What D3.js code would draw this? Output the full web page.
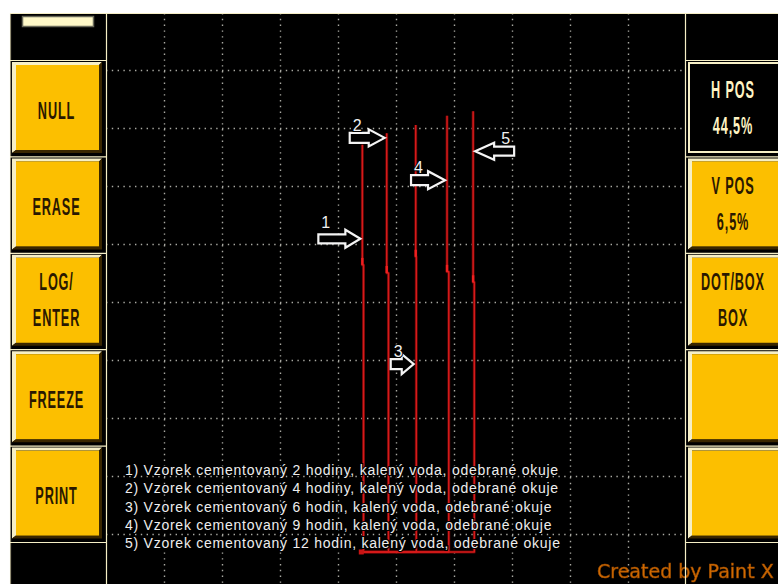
<!DOCTYPE html>
<html>
<head>
<meta charset="utf-8">
<script src="https://cdn.jsdelivr.net/npm/d3@7"></script>
<style>
  html, body { margin: 0; padding: 0; background: #fff; }
  svg { display: block; }
</style>
</head>
<body>
<script>
// Eddy-current flaw detector screen: five traces with arrows and a legend.

// ---- data -------------------------------------------------------------
const gridDivisions = d3.range(1, 10);               // grid lines at every division
const nullPoint = [4.41, 0.69];                      // balance point (div)
const traceLabels = ["1", "2", "3", "4", "5"];
const traceBottomX = [4.44, 4.87, 5.35, 5.91, 6.35]; // x where each trace leaves the baseline
const traceTopX = [4.42, 4.84, 5.34, 5.88, 6.33];    // x of the upper part of each trace
const traceKinkY = [5.64, 5.50, 5.78, 5.52, 5.34];   // small step in each trace
const traceTopY = [7.71, 7.91, 8.05, 8.21, 8.29];    // peak amplitude of each trace
const arrowY = [6.09, 7.83, 3.93, 7.10, 7.60];       // where each numbered arrow points
const arrowDir = ["right", "right", "right", "right", "left"];
const legendLines = [
  "1) Vzorek cementovaný 2 hodiny, kalený voda, odebrané okuje",
  "2) Vzorek cementovaný 4 hodiny, kalený voda, odebrané okuje",
  "3) Vzorek cementovaný 6 hodin, kalený voda, odebrané okuje",
  "4) Vzorek cementovaný 9 hodin, kalený voda, odebrané okuje",
  "5) Vzorek cementovaný 12 hodin, kalený voda, odebrané okuje"
];
const leftButtons = [["NULL"], ["ERASE"], ["LOG/", "ENTER"], ["FREEZE"], ["PRINT"]];
const hPos = 44.5, vPos = 6.5;
const rightButtons = [["H POS", hPos], ["V POS", vPos], ["DOT/BOX", "BOX"], [], []];
const footer = "Created by Paint X";

// ---- layout & style ---------------------------------------------------
const W = 778, H = 584;
const plot = { left: 106, right: 686, top: 13, bottom: 584 };
const pale = "#f6efc6", yellow = "#fcbf00", shade = "#3a2700", ink = "#2a1800";
const arrowShape = {           // length, head length, head half-height, shaft half-height
  "1": [42, 15, 9, 4.5], "2": [35, 16, 8.5, 5], "3": [23, 12, 10, 5],
  "4": [34, 17, 9, 5], "5": [39, 19, 8.5, 4.5]
};

const x = d3.scaleLinear().domain([0, 10]).range([plot.left, plot.right]);
const y = d3.scaleLinear().domain([0, 10]).range([592, 12]);

const svg = d3.select("body").append("svg")
  .attr("width", W).attr("height", H)
  .attr("font-family", "'Liberation Sans', Arial, sans-serif");

const defs = svg.append("defs");
defs.append("clipPath").attr("id", "plotClip")
  .append("rect").attr("x", plot.left).attr("y", plot.top)
  .attr("width", plot.right - plot.left).attr("height", plot.bottom - plot.top);
defs.append("filter").attr("id", "soft").attr("x", "-5%").attr("y", "-20%")
  .attr("width", "110%").attr("height", "140%")
  .append("feGaussianBlur").attr("stdDeviation", 0.55);

// screen background
svg.append("rect").attr("width", W).attr("height", H).attr("fill", "#fff");
svg.append("rect").attr("x", 10).attr("y", 13).attr("width", W - 10).attr("height", H - 13)
  .attr("fill", "#000");

// ---- grid -------------------------------------------------------------
const gridG = svg.append("g").attr("clip-path", "url(#plotClip)");
gridG.append("g")
  .attr("transform", `translate(${plot.left},0)`)
  .call(d3.axisLeft(y).tickValues(gridDivisions).tickSize(-(plot.right - plot.left)).tickFormat(""))
  .call(g => g.select(".domain").remove())
  .selectAll("line")
  .attr("stroke", "#a9a9a2").attr("stroke-width", 1.4)
  .attr("stroke-dasharray", "1.4 4.4");
gridG.append("g")
  .attr("transform", `translate(0,${plot.top})`)
  .call(d3.axisTop(x).tickValues(gridDivisions).tickSize(-(plot.bottom - plot.top)).tickFormat(""))
  .call(g => g.select(".domain").remove())
  .selectAll("line")
  .attr("stroke", "#a9a9a2").attr("stroke-width", 1.4)
  .attr("stroke-dasharray", "1.4 4.4");

// ---- traces -----------------------------------------------------------
const traces = traceLabels.map((lab, i) => ({
  label: lab,
  pts: [
    nullPoint,
    [traceBottomX[i], nullPoint[1]],
    [traceBottomX[i], traceKinkY[i]],
    [traceTopX[i], traceKinkY[i]],
    [traceTopX[i], traceTopY[i]]
  ],
  kink: [traceTopX[i], traceKinkY[i]]
}));
const line = d3.line().x(d => x(d[0])).y(d => y(d[1]));
const traceG = svg.append("g").attr("clip-path", "url(#plotClip)").attr("fill", "none");
traceG.selectAll("path.glow").data(traces).join("path")
  .attr("class", "glow").attr("d", d => line(d.pts))
  .attr("stroke", "#5a0606").attr("stroke-width", 3).attr("stroke-linejoin", "round");
traceG.selectAll("path.core").data(traces).join("path")
  .attr("class", "core").attr("d", d => line(d.pts))
  .attr("stroke", "#d61a1a").attr("stroke-width", 1.5).attr("stroke-linejoin", "round");
traceG.selectAll("line.dwell").data(traces).join("line")
  .attr("class", "dwell")
  .attr("x1", d => x(d.kink[0])).attr("x2", d => x(d.kink[0]))
  .attr("y1", d => y(d.kink[1]) - 7).attr("y2", d => y(d.kink[1]))
  .attr("stroke", "#f02020").attr("stroke-width", 2.4);
traceG.append("rect")
  .attr("x", x(nullPoint[0]) - 3).attr("y", y(nullPoint[1]) - 2.5)
  .attr("width", 5).attr("height", 5).attr("fill", "#c81414");

// ---- arrows -----------------------------------------------------------
const arrowG = svg.append("g");
traces.forEach((t, i) => {
  const [L, hl, hh, sh] = arrowShape[t.label];
  const dir = arrowDir[i] === "right" ? 1 : -1;
  const tipX = x(traceTopX[i]) - 2 * dir;
  const tipY = y(arrowY[i]);
  const pts = [[0, 0], [-hl, -hh], [-hl, -sh], [-L, -sh], [-L, sh], [-hl, sh], [-hl, hh]];
  const g = arrowG.append("g").attr("transform", `translate(${tipX},${tipY}) scale(${dir},1)`);
  g.append("polygon").attr("points", pts.map(p => p.join(",")).join(" "))
    .attr("fill", "#000").attr("stroke", "#f4f4f4").attr("stroke-width", 2.2)
    .attr("stroke-linejoin", "miter");
  const tailX = tipX - dir * L;
  arrowG.append("text")
    .attr("x", dir === 1 ? tailX + 3 : tailX - 4)
    .attr("y", tipY - (t.label === "1" ? 11 : 7))
    .attr("text-anchor", dir === 1 ? "start" : "end")
    .attr("font-size", 16).attr("fill", "#f0f0f0")
    .attr("stroke", "#000").attr("stroke-width", 2).attr("paint-order", "stroke")
    .text(t.label);
});

// ---- legend -----------------------------------------------------------
svg.append("g").selectAll("text").data(legendLines).join("text")
  .attr("x", 125).attr("y", (d, i) => 475 + i * 18.25)
  .attr("font-size", 14).attr("letter-spacing", 0.75)
  .attr("fill", "#eeeeee")
  .attr("stroke", "#000").attr("stroke-width", 2.2).attr("paint-order", "stroke")
  .text(d => d);

// ---- side panels ------------------------------------------------------
const slotTop = i => 60 + i * 96.4;
const panels = [
  { x0: 10, x1: 106, bx: 12, bw: 90, buttons: leftButtons, cx: 56.5 },
  { x0: 686, x1: W, bx: 688, bw: 94, buttons: rightButtons, cx: 733 }
];

function bevelButton(g, bx, by, bw, bh, pressed) {
  const b = 3;
  if (pressed) {
    g.append("rect").attr("x", bx + 1).attr("y", by + 1).attr("width", bw - 2).attr("height", bh - 2)
      .attr("fill", "#000").attr("stroke", pale).attr("stroke-width", 2);
    return;
  }
  g.append("polygon").attr("fill", pale).attr("points", [
    [bx, by], [bx + bw, by], [bx + bw - b, by + b], [bx + b + 1, by + b],
    [bx + b + 1, by + bh - b], [bx, by + bh]].map(p => p.join(",")).join(" "));
  g.append("polygon").attr("fill", shade).attr("points", [
    [bx + bw, by], [bx + bw, by + bh], [bx, by + bh], [bx + b + 1, by + bh - b],
    [bx + bw - b, by + bh - b], [bx + bw - b, by + b]].map(p => p.join(",")).join(" "));
  g.append("rect").attr("x", bx + b + 1).attr("y", by + b).attr("width", bw - 2 * b - 1)
    .attr("height", bh - 2 * b).attr("fill", yellow);
}

function buttonText(g, cx, baseline, str, color) {
  g.append("text")
    .attr("transform", `translate(${cx},${baseline}) scale(0.54,1)`)
    .attr("text-anchor", "middle").attr("font-size", 23.5).attr("font-weight", "bold")
    .attr("letter-spacing", 1.6).attr("fill", color)
    .text(str);
}

const fmtPct = v => d3.format(".1f")(v).replace(".", ",") + "%";

panels.forEach((p, pi) => {
  const g = svg.append("g");
  // separators between slots
  for (let i = 0; i <= 5; i++) {
    g.append("line").attr("x1", p.x0).attr("x2", p.x1)
      .attr("y1", slotTop(i) + 0.5).attr("y2", slotTop(i) + 0.5)
      .attr("stroke", pale).attr("stroke-width", 1.2);
  }
  p.buttons.forEach((lines, i) => {
    const by = slotTop(i) + 2, bh = 91;
    const pressed = pi === 1 && i === 0;
    bevelButton(g, p.bx, by, p.bw, bh, pressed);
    const mid = by + bh / 2;
    const color = pressed ? "#fff4c4" : ink;
    const strs = lines.map(v => typeof v === "number" ? fmtPct(v) : v);
    if (strs.length === 1) buttonText(g, p.cx, mid + 11, strs[0], color);
    if (strs.length === 2) {
      buttonText(g, p.cx, mid - 10, strs[0], color);
      buttonText(g, p.cx, mid + 26, strs[1], color);
    }
  });
});

// status indicator in the top-left corner
svg.append("rect").attr("x", 22.5).attr("y", 16.5).attr("width", 71).attr("height", 10)
  .attr("fill", "#fff9c8").attr("stroke", "#6a6a5a").attr("stroke-width", 1.5);

// footer text
svg.append("text").attr("x", 597).attr("y", 578)
  .attr("font-family", "'DejaVu Sans', Verdana, sans-serif").attr("font-size", 19)
  .attr("fill", "#d26c00").attr("stroke", "#9a4a00").attr("stroke-width", 0.6)
  .attr("filter", "url(#soft)")
  .text(footer);

// frame lines
const frame = svg.append("g").attr("stroke", pale).attr("stroke-width", 1.2);
frame.append("line").attr("x1", 10).attr("x2", W).attr("y1", 13.5).attr("y2", 13.5);
frame.append("line").attr("x1", 106.5).attr("x2", 106.5).attr("y1", 13).attr("y2", H);
frame.append("line").attr("x1", 685.5).attr("x2", 685.5).attr("y1", 13).attr("y2", H);
frame.append("line").attr("x1", 10.5).attr("x2", 10.5).attr("y1", 13).attr("y2", H)
  .attr("stroke-opacity", 0.6);
</script>
</body>
</html>
